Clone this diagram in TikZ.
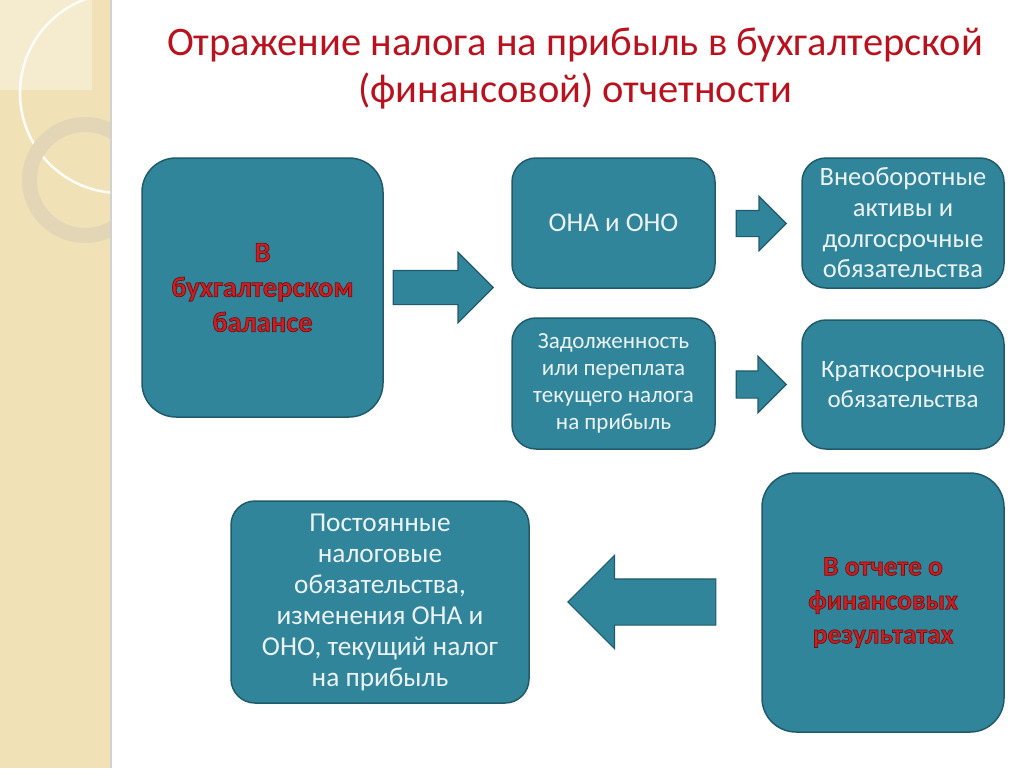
\documentclass[tikz,border=0pt]{standalone}
\usepackage{fontspec}
\setmainfont{Carlito}
\usetikzlibrary{shapes.arrows}
\definecolor{boxfill}{RGB}{49,133,155}
\definecolor{boxline}{RGB}{33,90,106}
\definecolor{boxtext}{RGB}{236,243,245}
\definecolor{titlered}{RGB}{185,18,30}
\definecolor{boldred}{RGB}{205,30,35}
\definecolor{strip}{RGB}{240,226,182}
\definecolor{stripup}{RGB}{245,235,207}
\definecolor{ring}{RGB}{226,214,182}
% dark outline round the red words
\newcommand\outlined[1]{\special{pdf:literal direct 2 Tr 0.75 w 0.42 0.08 0.08 RG}#1\special{pdf:literal direct 0 Tr}}
\begin{document}
\begin{tikzpicture}[x=1pt,y=-1pt]
        \tikzset{box/.style = {draw=boxline, line width=1.5pt, fill=boxfill, rounded corners=24pt,
                text=boxtext, align=center, inner sep=0pt}}
        \tikzset{bigbox/.style = {box, rounded corners=34pt, text=boldred}}
        \tikzset{blockarrow/.style = {single arrow, draw=boxline, line width=1.2pt, fill=boxfill,
                inner xsep=0pt, anchor=tip}}
        \useasboundingbox (0,0) rectangle (1024,768);

        % left decorative strip
        \fill[strip] (0,0) rectangle (112,768);
        \fill[stripup] (0,0) rectangle (92,90);
        \fill[black!18] (110,0) rectangle (112,768);
        \begin{scope}
            \clip (0,0) rectangle (110,768);
            \draw[white!90!strip, line width=2.5pt] (120,93) circle[radius=100];
            \draw[ring, line width=15pt] (85,180) circle[radius=55.5];
        \end{scope}

        % title
        \node[text=titlered, align=center, font=\fontsize{40.5}{47}\selectfont] (title) at (575,69)
            {Отражение налога на прибыль в бухгалтерской\\(финансовой) отчетности};

        % boxes
        \node[bigbox, minimum width=241, minimum height=259, font=\bfseries\fontsize{28.5}{35}\selectfont]
            (balance) at (262.5,287.5) {\outlined{В}\\\outlined{бухгалтерском}\\\outlined{балансе}};
        \node[box, minimum width=203, minimum height=130, font=\fontsize{27}{30}\selectfont]
            (ona) at (613.5,223) {ОНА и ОНО};
        \node[box, minimum width=203, minimum height=131, font=\fontsize{23}{27}\selectfont]
            (debt) at (613.5,383.5) {Задолженность\\или переплата\\текущего налога\\на прибыль};
        \node[box, minimum width=202, minimum height=130, font=\fontsize{26.5}{30.7}\selectfont]
            (longterm) at (903,223) {Внеоборотные\\активы и\\долгосрочные\\обязательства};
        \node[box, minimum width=202, minimum height=129, font=\fontsize{25}{30}\selectfont]
            (shortterm) at (903,384.5) {Краткосрочные\\обязательства};
        \node[bigbox, minimum width=242, minimum height=259, font=\bfseries\fontsize{27.5}{34}\selectfont]
            (report) at (883,602.5) {\outlined{В отчете о}\\\outlined{финансовых}\\\outlined{результатах}};
        \node[box, minimum width=298, minimum height=202, font=\fontsize{27.3}{31}\selectfont]
            (perm) at (380,602) {Постоянные\\налоговые\\обязательства,\\изменения ОНА и\\ОНО, текущий налог\\на прибыль};

        % block arrows
        \node[blockarrow, minimum height=100, inner ysep=16.5, single arrow head extend=18] (a1) at (494,287.5) {};
        \node[blockarrow, minimum height=50, inner ysep=12.5, single arrow head extend=14] (a2) at (787,223.5) {};
        \node[blockarrow, minimum height=50, inner ysep=13, single arrow head extend=14.5] (a3) at (787,384.5) {};
        \node[blockarrow, minimum height=148, inner ysep=22.5, single arrow head extend=23.5, rotate=180] (a4) at (567,602) {};
\end{tikzpicture}
\end{document}
